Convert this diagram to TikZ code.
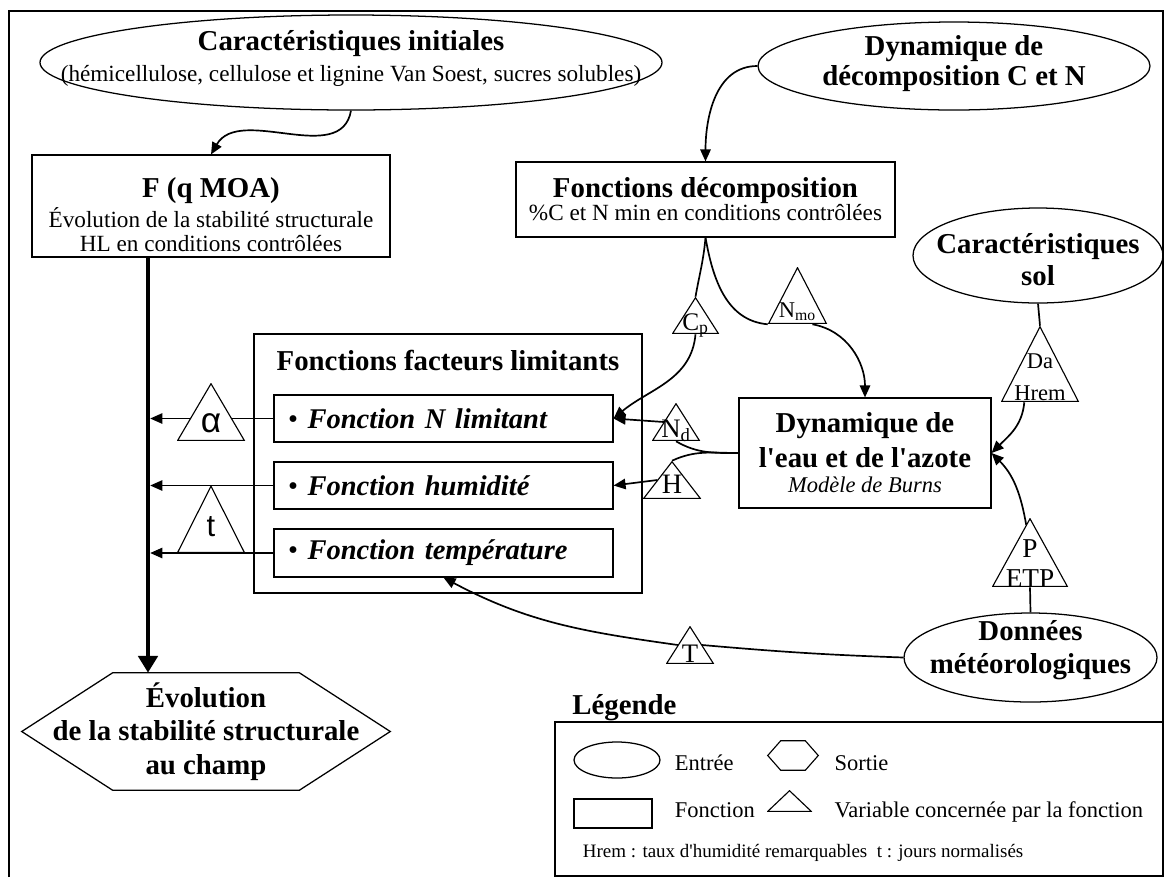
\documentclass[tikz,border=0pt]{standalone}
\usepackage{fontspec}
\setmainfont{Liberation Serif}
\newfontfamily\greekfont{Liberation Sans}
\usetikzlibrary{positioning,arrows.meta,calc,shapes.geometric,backgrounds}
\newcommand{\titlefont}{\fontsize{20.5}{23}\selectfont\bfseries}
\newcommand{\subfont}{\fontsize{16.5}{17}\selectfont}
\newcommand{\legfont}{\fontsize{16}{18}\selectfont}
% text standing on its baseline, #1 under the centre of a triangle
\newcommand{\vt}[2]{\makebox[0pt]{\raisebox{#1}[0pt][0pt]{\begin{tabular}[b]{@{}c@{}}#2\end{tabular}}}}

\begin{document}
\begin{tikzpicture}[
  font=\subfont,
  entree/.style={draw, ellipse, line width=0.9pt, inner sep=0pt},
  fct/.style={draw, line width=0.8pt, align=center, inner sep=0pt},
  item/.style={draw, line width=0.8pt, minimum width=8.475cm, minimum height=1.175cm, text width=7.775cm,
    inner xsep=0.35cm, inner ysep=0pt, align=left, font=\fontsize{20.3}{22}\selectfont},
  var/.style 2 args={minimum width=#1, minimum height=#2, inner sep=0pt,
    path picture={\filldraw[fill=white, line width=0.8pt]
      ([yshift=-0.5pt]path picture bounding box.north)
      -- ([shift={(-0.5pt,0.45pt)}]path picture bounding box.south east)
      -- ([shift={(0.5pt,0.45pt)}]path picture bounding box.south west) -- cycle;}},
  arr/.style={-{Triangle[length=3mm,width=2.6mm]}, line width=1.2pt},
  link/.style={line width=1.2pt},
  lim/.style={-{Triangle[length=3mm,width=2.6mm]}, line width=0.8pt, shorten >=1.6pt}]
  \useasboundingbox (0,0) rectangle (29.125,-21.925);
  \draw[line width=1.4pt] (0.225,-21.925) -- (0.225,-0.275) -- (29.075,-0.275) -- (29.075,-21.925);
  % inputs
  \node[entree, minimum width=15.55cm, minimum height=2.375cm] (carinit) at (8.775,-1.5625) {};
  \node[align=center, font=\titlefont] (carinit-t) at (8.775,-1.4625)
    {Caractéristiques initiales\\[-1pt]{\subfont\mdseries (hémicellulose, cellulose et lignine Van Soest, sucres solubles)}};
  \node[entree, minimum width=9.8cm, minimum height=2.2cm] (dyndec) at (23.85,-1.65) {};
  \node[align=center, font=\fontsize{20.5}{21.3}\selectfont\bfseries] (dyndec-t) at (23.85,-1.5875)
    {Dynamique de\\décomposition C et N};
  \node[entree, minimum width=6.25cm, minimum height=2.375cm] (carsol) at (25.95,-6.3875) {};
  \node[align=center, font=\fontsize{20.5}{22.8}\selectfont\bfseries] (carsol-t) at (25.95,-6.4875)
    {Caractéristiques\\sol};
  \node[entree, minimum width=6.325cm, minimum height=2.225cm] (dmet) at (25.7625,-16.4375) {};
  \node[align=center, font=\fontsize{20.5}{23.5}\selectfont\bfseries] (dmet-t) at (25.7625,-16.25)
    {Données\\météorologiques};
  % functions
  \node[fct, minimum width=8.95cm, minimum height=2.55cm] (fqmoa) at (5.275,-5.15) {};
  \node[align=center] (fqmoa-t) at (5.275,-5.3625)
    {{\titlefont F (q MOA)}\\[2.2pt]Évolution de la stabilité structurale\\HL en conditions contrôlées};
  \node[fct, minimum width=9.475cm, minimum height=1.875cm] (decomp) at (17.6375,-4.9875)
    {{\titlefont Fonctions décomposition}\\[-0.6pt]\%C et N min en conditions contrôlées};
  \node[fct, minimum width=9.7cm, minimum height=6.475cm] (flim) at (11.2,-11.5875) {};
  \node[anchor=base, font=\titlefont] (flim-t) at (11.2,-9.25) {Fonctions facteurs limitants};
  \node[item] (fl1) at (11.0875,-10.4625) {\textbullet\ \textbf{\textit{Fonction N limitant}}};
  \node[item] (fl2) at (11.0875,-12.1375) {\textbullet\ \textbf{\textit{Fonction humidité}}};
  \node[item, minimum height=1.2cm] (fl3) at (11.0875,-13.825) {\textbullet\ \textbf{\textit{Fonction température}}};
  \node[fct, minimum width=6.3cm, minimum height=2.75cm, font=\fontsize{20.5}{25}\selectfont\bfseries] (dyn) at (21.625,-11.325)
    {Dynamique de\\l\textquotesingle eau et de l\textquotesingle azote\\[-7.2pt]{\fontsize{16}{17}\selectfont\mdseries\itshape Modèle de Burns}};
  % output
  \node[minimum width=9.2cm, minimum height=2.925cm, inner sep=0pt, align=center,
    font=\fontsize{20.5}{24}\selectfont\bfseries] (evol) at (5.15,-18.2875)
    {Évolution\\de la stabilité structurale\\au champ};
  \draw[line width=0.9pt] (evol.west) -- ([xshift=2.275cm]evol.north west) -- ([xshift=-2.275cm]evol.north east)
    -- (evol.east) -- ([xshift=-2.275cm]evol.south east) -- ([xshift=2.275cm]evol.south west) -- cycle;
  % variables
  \node[var={1.7cm}{1.45cm}, font=\greekfont\fontsize{25}{25}\selectfont] (alpha) at (5.275,-10.3) {\vt{-0.5cm}{α}};
  \node[var={1.7cm}{1.6875cm}, font=\greekfont\fontsize{22}{22}\selectfont] (tvar) at (5.275,-12.98) {\vt{-0.44cm}{t}};
  \node[var={1.175cm}{0.925cm}, font=\fontsize{18}{18}\selectfont] (cp) at (17.3875,-7.8875) {\vt{-0.3625cm}{C\textsubscript{p}}};
  \node[var={1.475cm}{1.425cm}, font=\fontsize{16}{16}\selectfont] (nmo) at (19.9375,-7.3875) {\vt{-0.5375cm}{N\textsubscript{mo}}};
  \node[var={1.2cm}{0.95cm}, font=\fontsize{19}{19}\selectfont] (nd) at (16.9,-10.55) {\vt{-0.375cm}{N\textsubscript{d}}};
  \node[var={1.45cm}{0.95cm}, font=\fontsize{20}{20}\selectfont] (hv) at (16.8,-12.0) {\vt{-0.325cm}{H}};
  \node[var={1.95cm}{1.9cm}, font=\fontsize{16}{23}\selectfont] (da) at (26.0,-9.1) {\vt{-0.9175cm}{Da\\Hrem}};
  \node[var={1.9cm}{1.725cm}, font=\fontsize{19.4}{21.3}\selectfont] (pe) at (25.75,-13.8125) {\vt{-0.8625cm}{P\\ETP}};
  \node[var={1.2cm}{0.95cm}, font=\fontsize{19}{19}\selectfont] (tt) at (17.25,-16.125) {\vt{-0.425cm}{T}};
  % legend
  \node[draw, line width=0.8pt, minimum width=15.2cm, minimum height=3.85cm] (legbox) at (21.475,-19.975) {};
  \node[anchor=base west, font=\titlefont] (legtitle) at ([shift={(0.325,0.175)}]legbox.north west) {Légende};
  \node[entree, minimum width=2.15cm, minimum height=0.9cm] (legin) at (15.425,-19.0) {};
  \node[anchor=base west, font=\legfont, inner sep=0pt] (legin-t) at ([shift={(0.35,-0.25)}]legin.east) {Entrée};
  \node[minimum width=1.25cm, minimum height=0.725cm, inner sep=0pt] (legout) at (19.825,-18.8875) {};
  \draw[line width=0.8pt] (legout.west) -- ([xshift=0.325cm]legout.north west) -- ([xshift=-0.325cm]legout.north east)
    -- (legout.east) -- ([xshift=-0.325cm]legout.south east) -- ([xshift=0.325cm]legout.south west) -- cycle;
  \node[anchor=base west, font=\legfont, inner sep=0pt] (legout-t) at ([shift={(0.4,-0.3625)}]legout.east) {Sortie};
  \node[fct, minimum width=1.95cm, minimum height=0.725cm] (legfct) at (15.325,-20.3375) {};
  \node[anchor=base west, font=\legfont, inner sep=0pt] (legfct-t) at ([shift={(0.55,-0.0875)}]legfct.east) {Fonction};
  \node[var={1.125cm}{0.55cm}] (legvar) at (19.7375,-20.025) {};
  \node[anchor=base west, font=\legfont, inner sep=0pt] (legvar-t) at ([shift={(0.55,-0.125)}]legvar.south east)
    {Variable concernée par la fonction};
  \node[anchor=base west, font=\fontsize{13.5}{15}\selectfont] (legnote) at (14.45,-21.425)
    {Hrem : taux d\textquotesingle humidité remarquables\ \ t : jours normalisés};
  % connectors
  \begin{scope}[on background layer]
    \draw[arr] (carinit.south) to[out=-100,in=60] (fqmoa.north);
    \draw[arr] (dyndec.west) to[out=180,in=90] (decomp.north);
    \draw[link] (decomp.south) to[out=-95,in=80] (cp.north);
    \draw[arr] (cp.south) to[out=-95,in=40] (fl1.east);
    \draw[link] (decomp.south) to[out=-80,in=175] (nmo.south west);
    \draw[arr] ($(nmo.south)!0.5!(nmo.south east)$) to[out=-10,in=90] (dyn.north);
    \draw[link] (dyn.west) to[out=180,in=-30] (nd.south);
    \draw[arr] ($(nd.north)!0.5!(nd.south west)$) -- (fl1.east);
    \draw[link] (dyn.west) to[out=180,in=25] (hv.north);
    \draw[arr] ($(hv.north)!0.5!(hv.south west)$) -- (fl2.east);
    \draw[link] (carsol.south) -- (da.north);
    \draw[arr] ($(da.south)!0.4!(da.south west)$) to[out=-95,in=45] (dyn.east);
    \draw[link] (dmet.north) -- (pe.south);
    \draw[arr] ($(pe.north)!0.1!(pe.south west)$) to[out=100,in=-45] (dyn.east);
    \draw[link] (dmet.west) to[out=178,in=-5] ($(tt.north)!0.5!(tt.south east)$);
    \draw[arr] ($(tt.north)!0.5!(tt.south west)$) to[out=172,in=-28] (fl3.south);
    % spine towards the output
    \coordinate (sp) at ([xshift=-1.575cm]fqmoa.south);
    \draw[line width=3pt, -{Triangle[length=4.2mm,width=4.8mm]}] (sp) -- (sp |- evol.north);
    \draw[lim] (fl1.west) -- (fl1.west -| sp);
    \draw[lim] (fl2.west) -- (fl2.west -| sp);
    \draw[lim] (fl3.west) -- (fl3.west -| sp);
  \end{scope}
\end{tikzpicture}
\end{document}
